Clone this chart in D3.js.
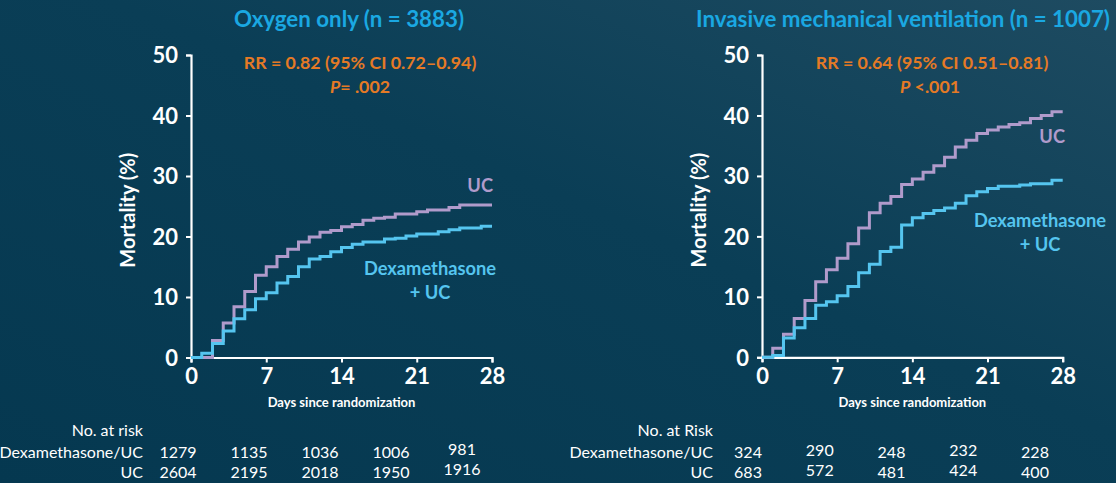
<!DOCTYPE html>
<html><head><meta charset="utf-8">
<script src="https://cdn.jsdelivr.net/npm/d3@7"></script>
<style>
html,body{margin:0;padding:0;background:#073b53;}
svg{display:block;}
</style></head>
<body>
<svg id="chart" width="1116" height="483"></svg>
<script>
// ---------- DATA ----------
const days = d3.range(0, 29);
const xTicks = [0, 7, 14, 21, 28];
const yTicks = [0, 10, 20, 30, 40, 50];

const oxygenTitle = "Oxygen only (n = 3883)";
const oxygenRR = "RR = 0.82 (95% CI 0.72\u20130.94)";
const oxygenPLabel = "P";
const oxygenPValue = "= .002";
const oxygenUC = [0, 0, 2.8, 5.7, 8.4, 10.9, 13.6, 15.0, 16.7, 17.9, 19.1, 19.9, 20.7, 21.0, 21.6, 22.0, 22.7, 23.0, 23.2, 23.7, 23.7, 24.1, 24.4, 24.4, 24.8, 25.2, 25.2, 25.2, 25.2];
const oxygenDexa = [0, 0.7, 2.3, 4.4, 6.4, 7.9, 9.7, 10.7, 12.3, 13.4, 15.0, 16.3, 16.7, 17.5, 18.2, 18.7, 19.1, 19.1, 19.6, 19.7, 20.1, 20.4, 20.4, 20.8, 21.1, 21.4, 21.4, 21.7, 21.7];
const oxygenRiskHeader = "No. at risk";
const oxygenRiskDexa = [1279, 1135, 1036, 1006, 981];
const oxygenRiskUC = [2604, 2195, 2018, 1950, 1916];

const imvTitle = "Invasive mechanical ventilation (n = 1007)";
const imvRR = "RR = 0.64 (95% CI 0.51\u20130.81)";
const imvPLabel = "P";
const imvPValue = " <.001";
const imvUC = [0, 1.5, 3.8, 6.4, 9.4, 12.5, 14.5, 16.4, 18.8, 21.4, 23.9, 25.5, 26.6, 28.6, 29.5, 30.6, 31.7, 33.1, 34.8, 35.9, 37.0, 37.6, 38.1, 38.5, 38.8, 39.5, 40.0, 40.6, 40.6];
const imvDexa = [0, 0.3, 3.2, 4.9, 6.4, 8.6, 9.2, 10.2, 11.7, 14.0, 15.4, 17.5, 18.2, 21.9, 23.1, 23.8, 24.3, 24.7, 25.5, 26.7, 27.4, 27.9, 28.3, 28.3, 28.5, 28.7, 28.7, 29.3, 29.3];
const imvRiskHeader = "No. at Risk";
const imvRiskDexa = [324, 290, 248, 232, 228];
const imvRiskUC = [683, 572, 481, 424, 400];

const rowLabels = ["Dexamethasone/UC", "UC"];
const yLabel = "Mortality (%)";
const xLabel = "Days since randomization";
const seriesLabelUC = "UC";
const seriesLabelDexa = ["Dexamethasone", "+ UC"];

// ---------- STYLE ----------
const FONT = "Lato, 'Open Sans', sans-serif";
const C_TITLE = "#1aa8e2";
const C_ORANGE = "#e57a25";
const C_UC = "#b09bcb";
const C_DEXA = "#55c5ef";
const C_TEXT = "#ffffff";

const svg = d3.select("#chart");
const defs = svg.append("defs");
const grad = defs.append("linearGradient").attr("id", "bg").attr("x1", "0").attr("y1", "1").attr("x2", "1").attr("y2", "0");
grad.append("stop").attr("offset", "0").attr("stop-color", "#053850");
grad.append("stop").attr("offset", "0.55").attr("stop-color", "#0a3e56");
grad.append("stop").attr("offset", "1").attr("stop-color", "#1e4b61");
svg.append("rect").attr("width", 1116).attr("height", 483).attr("fill", "url(#bg)");

function panel(cfg) {
  const g = svg.append("g");
  const x = d3.scaleLinear().domain([0, 28]).range([cfg.x0, cfg.x1]);
  const y = d3.scaleLinear().domain([0, 50]).range([cfg.y0, cfg.y1]);

  // axes
  const xAxis = g.append("g").attr("transform", `translate(0,${cfg.y0})`)
    .call(d3.axisBottom(x).tickValues(xTicks).tickSize(5).tickSizeOuter(5).tickPadding(6));
  const yAxis = g.append("g").attr("transform", `translate(${cfg.x0},0)`)
    .call(d3.axisLeft(y).tickValues(yTicks).tickSize(5).tickSizeOuter(5).tickPadding(8));
  [xAxis, yAxis].forEach(a => {
    a.select(".domain").attr("stroke", C_TEXT).attr("stroke-width", 2.2);
    a.selectAll(".tick line").attr("stroke", C_TEXT).attr("stroke-width", 2);
    a.selectAll(".tick text").attr("fill", C_TEXT).attr("font-family", FONT)
      .attr("font-weight", "bold").attr("font-size", 22);
  });
  yAxis.selectAll(".tick text").attr("dy", "0.36em");
  xAxis.selectAll(".tick text").attr("dy", "0.72em");

  // lines
  const line = d3.line().x((d, i) => x(days[i])).y(d => y(d)).curve(d3.curveStepAfter);
  g.append("path").datum(cfg.uc).attr("d", line).attr("fill", "none")
    .attr("stroke", C_UC).attr("stroke-width", 3);
  g.append("path").datum(cfg.dexa).attr("d", line).attr("fill", "none")
    .attr("stroke", C_DEXA).attr("stroke-width", 3);

  // titles
  g.append("text").attr("x", cfg.titleX).attr("y", 27).attr("text-anchor", "middle")
    .attr("font-family", FONT).attr("font-weight", "bold").attr("font-size", 22.3)
    .attr("fill", C_TITLE).text(cfg.title);
  g.append("text").attr("x", cfg.rrX).attr("y", 69).attr("text-anchor", "middle")
    .attr("font-family", FONT).attr("font-weight", "bold").attr("font-size", 17.8)
    .attr("fill", C_ORANGE).text(cfg.rr);
  const pt = g.append("text").attr("x", cfg.pX).attr("y", 93).attr("text-anchor", "middle")
    .attr("font-family", FONT).attr("font-weight", "bold").attr("font-size", 17.8)
    .attr("fill", C_ORANGE);
  pt.append("tspan").attr("font-style", "italic").text(cfg.pLabel);
  pt.append("tspan").text(cfg.pValue);

  // axis labels
  g.append("text").attr("transform", `translate(${cfg.yLabelX},${(cfg.y0 + cfg.y1) / 2 + 4}) rotate(-90)`)
    .attr("text-anchor", "middle").attr("font-family", FONT).attr("font-weight", "bold")
    .attr("font-size", 20).attr("fill", C_TEXT).text(yLabel);
  g.append("text").attr("x", (cfg.x0 + cfg.x1) / 2).attr("y", 407).attr("text-anchor", "middle")
    .attr("font-family", FONT).attr("font-weight", "bold").attr("font-size", 13)
    .attr("fill", C_TEXT).text(xLabel);

  // series labels
  g.append("text").attr("x", cfg.ucLab[0]).attr("y", cfg.ucLab[1]).attr("text-anchor", "end")
    .attr("font-family", FONT).attr("font-weight", "bold").attr("font-size", 18.3)
    .attr("fill", C_UC).text(seriesLabelUC);
  seriesLabelDexa.forEach((t, i) => {
    g.append("text").attr("x", cfg.dexaLab[0]).attr("y", cfg.dexaLab[1] + i * 24).attr("text-anchor", "middle")
      .attr("font-family", FONT).attr("font-weight", "bold").attr("font-size", 18.3)
      .attr("fill", C_DEXA).text(t);
  });

  // risk table
  const rx = d3.scalePoint().domain(xTicks).range(cfg.riskRange);
  g.append("text").attr("x", cfg.riskLabelX).attr("y", 436).attr("text-anchor", "end")
    .attr("font-family", FONT).attr("font-size", 16).attr("fill", C_TEXT).text(cfg.riskHeader);
  [cfg.riskDexa, cfg.riskUC].forEach((row, r) => {
    const by = 458 + r * 20;
    g.append("text").attr("x", cfg.riskLabelX).attr("y", by).attr("text-anchor", "end")
      .attr("font-family", FONT).attr("font-size", 16).attr("fill", C_TEXT).text(rowLabels[r]);
    g.selectAll(null).data(row).enter().append("text")
      .attr("x", (d, i) => rx(xTicks[i]))
      .attr("y", (d, i) => by + (cfg.riskDy[i] || 0))
      .attr("text-anchor", "middle").attr("font-family", FONT).attr("font-size", 16)
      .attr("fill", C_TEXT).text(d => d);
  });
}

panel({
  x0: 191, x1: 492, y0: 357.5, y1: 55,
  title: oxygenTitle, titleX: 349, rr: oxygenRR, rrX: 360, pLabel: oxygenPLabel, pValue: oxygenPValue, pX: 360,
  uc: oxygenUC, dexa: oxygenDexa, yLabelX: 135,
  ucLab: [493, 192], dexaLab: [430, 275],
  riskHeader: oxygenRiskHeader, riskDexa: oxygenRiskDexa, riskUC: oxygenRiskUC,
  riskLabelX: 143, riskRange: [178, 462], riskDy: [0, 0, 0, 0, -3]
});
panel({
  x0: 762, x1: 1062.7, y0: 357.3, y1: 55,
  title: imvTitle, titleX: 903, rr: imvRR, rrX: 932, pLabel: imvPLabel, pValue: imvPValue, pX: 930,
  uc: imvUC, dexa: imvDexa, yLabelX: 706,
  ucLab: [1065, 143], dexaLab: [1040, 227],
  riskHeader: imvRiskHeader, riskDexa: imvRiskDexa, riskUC: imvRiskUC,
  riskLabelX: 713, riskRange: [748, 1035], riskDy: [0, -2, 0, -2, 0]
});
</script>
</body></html>
